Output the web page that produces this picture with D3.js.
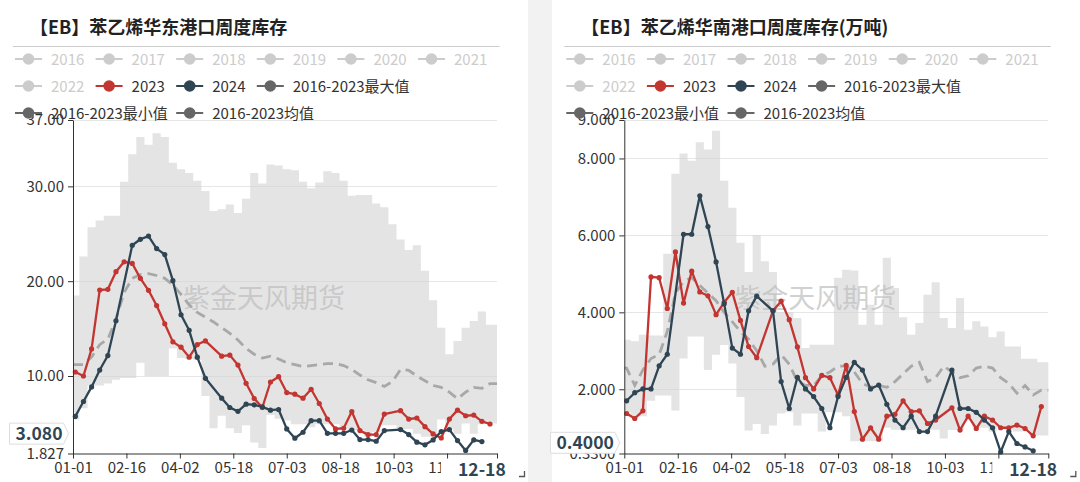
<!DOCTYPE html>
<html><head><meta charset="utf-8">
<script src="https://cdn.jsdelivr.net/npm/d3@7"></script>
<style>
body{margin:0;background:#fff;}
svg{display:block;font-family:"Noto Sans CJK SC","Microsoft YaHei",sans-serif;}
</style>
</head><body>
<svg id="chart" width="1080" height="482"></svg>
<script>
// ---------- categories ----------
const dayCategories = d3.timeDay.range(new Date(2024,0,1), new Date(2025,0,1)).map(d3.timeFormat("%m-%d"));
const weekDates = ["01-03","01-10","01-17","01-24","01-31","02-07","02-14","02-21","02-28","03-06","03-13","03-20","03-27",
  "04-03","04-10","04-17","04-24","05-01","05-08","05-15","05-22","05-29","06-05","06-12","06-19","06-26",
  "07-03","07-10","07-17","07-24","07-31","08-07","08-14","08-21","08-28","09-04","09-11","09-18","09-25",
  "10-02","10-09","10-16","10-23","10-30","11-06","11-13","11-20","11-27","12-04","12-11","12-18","12-25"];
const xTickLabels = ["01-01","02-16","04-02","05-18","07-03","08-18","10-03","11-18"];
const legendRows = [["2016","2017","2018","2019","2020","2021"],["2022","2023","2024","2016-2023最大值"],["2016-2023最小值","2016-2023均值"]];
const legendCols = [[0,1,2,3,4,5],[0,1,2,3],[0,2]];
const inactiveYears = ["2016","2017","2018","2019","2020","2021","2022"];
const watermark = "紫金天风期货";

// ---------- 华东 (east) ----------
const eastTitle = "【EB】苯乙烯华东港口周度库存";
const eastYTicks = [1.827, 10, 20, 30, 37];
const eastYLabels = ["1.827","10.00","20.00","30.00","37.00"];
const east2023 = [10.42,10.0,12.86,19.07,19.14,21.0,22.04,21.87,20.30,19.04,17.43,15.51,13.60,13.04,11.99,13.32,13.7,null,
  12.09,12.20,11.15,9.23,7.63,6.68,9.37,9.93,8.25,8.08,7.66,8.60,7.10,5.46,4.42,4.49,6.25,4.24,3.82,3.82,5.99,null,
  6.34,5.46,5.57,4.66,3.89,3.47,5.46,6.40,5.81,5.88,5.22,4.94];
const east2024 = [5.74,7.31,8.85,10.63,12.16,15.83,null,23.79,24.42,24.76,23.44,22.81,20.05,16.46,14.82,11.99,9.76,null,
  7.66,6.68,6.27,7.03,6.96,6.75,6.40,6.47,4.42,3.44,4.07,5.29,5.29,3.96,3.96,3.96,4.3,3.30,3.30,3.12,4.24,null,
  4.35,3.82,3.02,2.74,3.26,4.14,4.35,3.19,2.15,3.26,3.08];
const eastMax = [18.5,22.6,25.7,26.4,26.9,26.9,30.5,33.4,35.2,34.4,35.6,35.2,32.5,31.8,31.4,30.6,29.5,27.4,27.6,28.1,27.2,28.7,31.4,30.3,
  32.3,32.2,31.8,31.7,30.5,29.8,30.4,31.6,31.4,30.6,29.0,29.1,29.1,28.2,27.8,26.0,24.4,23.3,23.8,21.1,18.0,15.1,12.3,13.7,15.1,15.8,16.8,15.4];
const eastMin = [5.4,6.6,9.0,9.0,9.2,9.6,9.8,9.8,11.4,10.0,10.0,10.0,12.9,11.9,11.8,11.7,7.9,4.5,5.8,4.5,4.0,4.8,3.0,2.4,
  5.9,5.5,5.3,4.9,4.9,4.6,4.9,4.9,4.9,4.5,4.3,4.3,3.6,4.1,4.8,4.8,4.4,4.4,3.9,3.6,3.6,5.4,4.4,3.9,5.0,3.9,4.9,5.0];
const eastMean = [11.2,11.2,12.0,13.3,13.9,16.0,18.8,20.3,20.7,20.8,20.6,20.3,19.6,18.6,17.5,16.7,16.2,15.7,15.1,14.5,13.8,12.9,12.3,11.9,
  12.1,11.8,11.4,11.2,11.0,11.1,11.2,11.3,11.3,11.1,10.7,10.1,9.6,9.3,8.9,9.4,10.7,10.6,10.0,9.5,9.0,8.8,8.3,7.6,8.3,8.8,8.7,9.2];
const eastPointer = {x: "12-18", y: 3.080, label: "3.080"};

// ---------- 华南 (south) ----------
const southTitle = "【EB】苯乙烯华南港口周度库存(万吨)";
const southYTicks = [0.33, 2, 4, 6, 8, 9];
const southYLabels = ["0.3300","2.000","4.000","6.000","8.000","9.000"];
const south2023 = [1.37,1.24,1.44,4.92,4.90,4.10,5.57,4.24,5.07,4.53,4.43,3.94,4.26,4.52,3.79,3.11,2.82,null,
  4.04,4.29,3.81,3.10,2.30,2.01,2.36,2.30,1.85,2.62,1.42,0.70,1.0,0.70,1.30,1.35,1.70,1.42,1.44,1.11,1.20,null,
  1.52,0.94,1.30,0.98,1.30,1.20,1.0,1.0,1.07,0.98,0.79,1.55];
const south2024 = [1.70,1.91,2.01,2.01,2.61,2.91,null,6.03,6.03,7.03,6.23,5.31,4.22,3.07,2.91,4.04,4.42,null,
  4.04,2.20,1.50,2.31,2.01,1.81,1.50,1.0,1.81,2.31,2.70,2.50,2.01,2.11,1.61,1.20,1.0,1.30,0.90,0.90,1.30,null,
  2.50,1.50,1.50,1.40,1.20,1.0,0.37,0.90,0.59,0.50,0.40];
const southMax = [3.29,3.25,3.42,3.4,3.4,5.52,7.6,8.13,7.94,8.42,8.23,8.72,7.42,6.72,5.81,5.05,6.01,5.33,5.05,4.0,4.0,3.85,3.07,3.16,
  3.16,3.16,4.9,5.11,5.09,3.68,4.2,3.68,5.42,4.63,3.87,3.42,3.72,4.46,4.78,3.85,3.59,4.37,3.55,3.77,3.63,3.35,3.5,3.11,3.11,2.79,2.79,2.7];
const southMin = [1.4,1.3,1.3,1.7,1.84,1.84,1.45,2.8,3.37,3.37,2.5,2.9,3.15,2.67,1.8,0.93,1.1,0.84,1.06,1.37,1.4,1.06,1.37,1.37,
  0.9,1.4,1.4,1.3,0.65,0.65,0.65,0.65,1.0,0.95,0.95,0.95,0.95,0.95,0.95,0.72,0.94,0.94,1.2,1.0,1.0,0.9,1.0,0.95,0.9,0.9,0.8,0.8];
const southMean = [2.55,2.1,2.5,2.8,2.9,3.5,4.5,4.8,4.9,4.7,4.5,4.3,4.0,3.75,3.5,3.3,3.0,2.6,2.65,2.9,2.65,2.2,2.1,2.1,
  2.35,2.45,2.6,2.6,2.45,2.15,2.05,2.1,2.05,2.2,2.4,2.6,2.7,2.2,2.3,2.6,2.45,2.3,2.35,2.55,2.6,2.55,2.3,2.15,1.9,2.1,1.85,1.98];
const southPointer = {x: "12-18", y: 0.4000, label: "0.4000"};

// ---------- colors ----------
const C2023 = "#c23531", C2024 = "#2f4554", CSTAT = "#666", CINACT = "#ccc";
const FONT = "'Noto Sans CJK SC','Microsoft YaHei',sans-serif";

const svg = d3.select("#chart");
svg.append("rect").attr("x",0).attr("y",0).attr("width",1080).attr("height",482).attr("fill","#fff");
svg.append("rect").attr("x",528).attr("y",0).attr("width",24).attr("height",482).attr("fill","#f2f2f2");

function drawPanel(ox, cfg) {
  const g = svg.append("g").attr("transform", `translate(${ox},0)`);
  const L = 73, R = 497, T = 120, B = 453.5;
  const x = d3.scalePoint().domain(dayCategories).range([L, R]);
  const y = d3.scaleLinear().domain([cfg.yTicks[0], cfg.yTicks[cfg.yTicks.length-1]]).range([B, T]);

  // title
  g.append("text").attr("x", 30).attr("y", 34).attr("font-size", 18).attr("font-weight", "bold")
    .attr("fill", "#222").text(cfg.title);
  g.append("line").attr("x1", 13).attr("x2", 499.5).attr("y1", 46.5).attr("y2", 46.5).attr("stroke", "#ccc");

  // gridlines
  g.selectAll(".grid").data(cfg.yTicks.slice(1)).join("line")
    .attr("x1", L).attr("x2", R).attr("y1", d => Math.round(y(d))+0.5).attr("y2", d => Math.round(y(d))+0.5)
    .attr("stroke", "#e6e6e6");

  const idx = d3.range(weekDates.length);
  const last = weekDates.length - 1;
  // band between min and max (step), extended to the axis ends
  const bandPts = [{px: x(dayCategories[0]), i: 0}]
    .concat(idx.map(i => ({px: x(weekDates[i]), i})))
    .concat([{px: x(dayCategories[dayCategories.length-1]), i: last}]);
  g.append("path").datum(bandPts)
    .attr("d", d3.area().curve(d3.curveStep).x(d => d.px).y0(d => y(cfg.min[d.i])).y1(d => y(cfg.max[d.i])))
    .attr("fill", "#d2d2d2").attr("fill-opacity", 0.6);

  // watermark
  g.append("text").attr("x", 183).attr("y", 308).attr("font-size", 27).attr("fill", "#bdbdbd")
    .attr("fill-opacity", 0.7).text(watermark);

  // mean (dashed)
  g.append("path").datum(bandPts)
    .attr("d", d3.line().x(d => d.px).y(d => y(cfg.mean[d.i])))
    .attr("fill", "none").attr("stroke", "#a8a8a8").attr("stroke-width", 2.8).attr("stroke-dasharray", "10,6");

  // series
  function series(vals, color) {
    const pts = idx.filter(i => vals[i] != null).map(i => ({px: x(weekDates[i]), v: vals[i]}));
    g.append("path").datum(pts).attr("d", d3.line().x(d => d.px).y(d => y(d.v)))
      .attr("fill", "none").attr("stroke", color).attr("stroke-width", 2.3).attr("stroke-linejoin", "round");
    g.append("g").selectAll("circle").data(pts).join("circle")
      .attr("cx", d => d.px).attr("cy", d => y(d.v)).attr("r", 2.6).attr("fill", color);
  }
  series(cfg.s2023, C2023);
  series(cfg.s2024, C2024);

  // y axis
  const ya = g.append("g").attr("transform", `translate(${L},0)`)
    .call(d3.axisLeft(y).tickValues(cfg.yTicks).tickFormat((d,i) => cfg.yLabels[i]).tickSize(5).tickSizeOuter(0).tickPadding(4));
  ya.select(".domain").attr("stroke", "#333");
  ya.selectAll(".tick line").attr("stroke", "#333");
  ya.selectAll(".tick text").attr("fill", "#333").attr("font-size", 15).attr("font-family", FONT);

  // x axis
  const xa = g.append("g").attr("transform", `translate(0,${B})`)
    .call(d3.axisBottom(x).tickValues(xTickLabels.concat([dayCategories[dayCategories.length-1]]))
      .tickFormat(d => xTickLabels.includes(d) ? d : "").tickSize(5).tickSizeOuter(0).tickPadding(4));
  xa.select(".domain").attr("stroke", "#333");
  xa.selectAll(".tick line").attr("stroke", "#333");
  xa.selectAll(".tick text").attr("fill", "#333").attr("font-size", 15).attr("font-family", FONT);

  // legend
  const rowY = [59, 86, 113];
  legendRows.forEach((row, r) => {
    row.forEach((name, k) => {
      const lx = 15 + legendCols[r][k] * 80.6;
      const inactive = inactiveYears.includes(name);
      const col = inactive ? CINACT : name === "2023" ? C2023 : name === "2024" ? C2024 : CSTAT;
      g.append("line").attr("x1", lx).attr("x2", lx + 27).attr("y1", rowY[r]).attr("y2", rowY[r])
        .attr("stroke", col).attr("stroke-width", 2);
      g.append("circle").attr("cx", lx + 13.5).attr("cy", rowY[r]).attr("r", 5.8).attr("fill", col);
      g.append("text").attr("x", lx + 36).attr("y", rowY[r] + 5.5).attr("font-size", 15)
        .attr("fill", inactive ? CINACT : "#333").text(name);
    });
  });

  // axis pointer labels
  const p = cfg.pointer;
  const xp = x(p.x);
  g.append("rect").attr("x", xp - 41).attr("y", 460).attr("width", 81).attr("height", 21).attr("fill", "#fff");
  g.append("text").attr("x", xp).attr("y", 476).attr("text-anchor", "middle").attr("font-size", 17.5)
    .attr("font-weight", "bold").attr("fill", C2024).text(p.x);

  const yc = y(p.y) - 8;
  const tip = L - 4.5;
  const t = g.append("text").attr("font-size", 17.5).attr("font-weight", "bold").attr("fill", C2024).text(p.label);
  const tw = t.node().getComputedTextLength();
  const x1 = tip - 5, x0 = x1 - tw - 7;
  g.insert("path", () => t.node())
    .attr("d", `M${x0},${yc-10.5}H${x1}L${tip},${yc}L${x1},${yc+10.5}H${x0}Z`)
    .attr("fill", "#fff").attr("stroke", "#ddd");
  t.attr("x", x0 + 6).attr("y", yc + 6);

  // corner mark
  g.append("path").attr("d", "M519,476.5H524.5V471").attr("fill", "none").attr("stroke", "#555").attr("stroke-width", 1.3);
}

drawPanel(0, {title: eastTitle, yTicks: eastYTicks, yLabels: eastYLabels, s2023: east2023, s2024: east2024,
  max: eastMax, min: eastMin, mean: eastMean, pointer: eastPointer});
drawPanel(551.3, {title: southTitle, yTicks: southYTicks, yLabels: southYLabels, s2023: south2023, s2024: south2024,
  max: southMax, min: southMin, mean: southMean, pointer: southPointer});
</script>
</body></html>
